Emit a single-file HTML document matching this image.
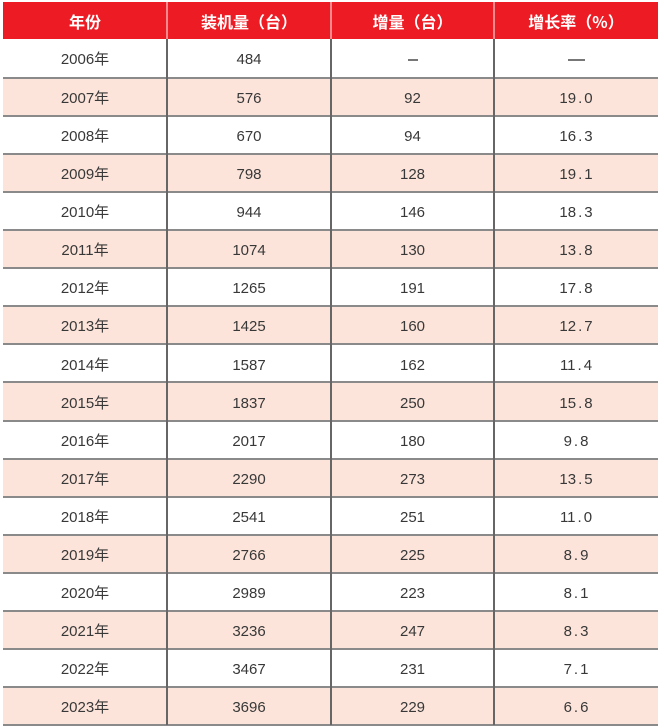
<!DOCTYPE html>
<html><head><meta charset="utf-8"><style>
html,body{margin:0;padding:0;background:#fff;}
body{width:664px;height:727px;position:relative;overflow:hidden;font-family:"Liberation Sans","Noto Sans CJK SC",sans-serif;}
.hdr{position:absolute;left:3px;top:2px;width:655px;height:37px;background:#ED1C24;}
.hc{position:absolute;top:2px;height:37px;line-height:38px;text-align:center;color:#fff;font-family:"Noto Sans CJK SC",sans-serif;font-weight:bold;font-size:16px;}
.row{position:absolute;left:3px;width:655px;height:38.06px;}
.pink{background:#FCE4DA;}
.hl{position:absolute;left:3px;width:655px;height:2px;background:#8a8a8a;}
.vl{position:absolute;top:39px;height:686px;width:1.5px;background:#666;}
.vh{position:absolute;top:2px;height:37px;width:1.5px;background:#f58a8e;}
.c{position:absolute;height:38px;line-height:41px;text-align:center;color:#383838;font-size:15px;}
.c1{left:3px;width:164px;}
.c2{left:167px;width:164px;}
.c3{left:331px;width:163px;}
.c4{left:494px;width:164px;}
.p{margin:0 2px;}
</style></head><body>
<div class="hdr"></div>
<div class="hc" style="left:3px;width:164px;">年份</div>
<div class="hc" style="left:167px;width:164px;">装机量（台）</div>
<div class="hc" style="left:331px;width:163px;">增量（台）</div>
<div class="hc" style="left:494px;width:164px;">增长率（%）</div>
<div class="vh" style="left:166.2px"></div>
<div class="vh" style="left:330.2px"></div>
<div class="vh" style="left:493.2px"></div>

<div class="row pink" style="top:77.06px"></div>
<div class="row pink" style="top:153.18px"></div>
<div class="row pink" style="top:229.3px"></div>
<div class="row pink" style="top:305.42px"></div>
<div class="row pink" style="top:381.54px"></div>
<div class="row pink" style="top:457.66px"></div>
<div class="row pink" style="top:533.78px"></div>
<div class="row pink" style="top:609.9px"></div>
<div class="row pink" style="top:686.02px"></div>

<div class="hl" style="top:77px"></div>
<div class="hl" style="top:115.06px"></div>
<div class="hl" style="top:153.12px"></div>
<div class="hl" style="top:191.18px"></div>
<div class="hl" style="top:229.24px"></div>
<div class="hl" style="top:267.3px"></div>
<div class="hl" style="top:305.36px"></div>
<div class="hl" style="top:343.42px"></div>
<div class="hl" style="top:381.48px"></div>
<div class="hl" style="top:419.54px"></div>
<div class="hl" style="top:457.6px"></div>
<div class="hl" style="top:495.66px"></div>
<div class="hl" style="top:533.72px"></div>
<div class="hl" style="top:571.78px"></div>
<div class="hl" style="top:609.84px"></div>
<div class="hl" style="top:647.9px"></div>
<div class="hl" style="top:685.96px"></div>
<div class="hl" style="top:723.6px"></div>

<div class="vl" style="left:166.2px"></div>
<div class="vl" style="left:330.2px"></div>
<div class="vl" style="left:493.2px"></div>

<div class="c c1" style="top:39px">2006年</div><div class="c c2" style="top:39px">484</div><div class="c c3" style="top:39px"><span style="display:inline-block;width:10px;height:1.5px;background:#777;vertical-align:middle"></span></div><div class="c c4" style="top:39px"><span style="display:inline-block;width:17px;height:1.5px;background:#777;vertical-align:middle"></span></div>
<div class="c c1" style="top:78px">2007年</div><div class="c c2" style="top:78px">576</div><div class="c c3" style="top:78px">92</div><div class="c c4" style="top:78px">19<span class="p">.</span>0</div>
<div class="c c1" style="top:116.1px">2008年</div><div class="c c2" style="top:116.1px">670</div><div class="c c3" style="top:116.1px">94</div><div class="c c4" style="top:116.1px">16<span class="p">.</span>3</div>
<div class="c c1" style="top:154.2px">2009年</div><div class="c c2" style="top:154.2px">798</div><div class="c c3" style="top:154.2px">128</div><div class="c c4" style="top:154.2px">19<span class="p">.</span>1</div>
<div class="c c1" style="top:192.2px">2010年</div><div class="c c2" style="top:192.2px">944</div><div class="c c3" style="top:192.2px">146</div><div class="c c4" style="top:192.2px">18<span class="p">.</span>3</div>
<div class="c c1" style="top:230.3px">2011年</div><div class="c c2" style="top:230.3px">1074</div><div class="c c3" style="top:230.3px">130</div><div class="c c4" style="top:230.3px">13<span class="p">.</span>8</div>
<div class="c c1" style="top:268.4px">2012年</div><div class="c c2" style="top:268.4px">1265</div><div class="c c3" style="top:268.4px">191</div><div class="c c4" style="top:268.4px">17<span class="p">.</span>8</div>
<div class="c c1" style="top:306.4px">2013年</div><div class="c c2" style="top:306.4px">1425</div><div class="c c3" style="top:306.4px">160</div><div class="c c4" style="top:306.4px">12<span class="p">.</span>7</div>
<div class="c c1" style="top:344.5px">2014年</div><div class="c c2" style="top:344.5px">1587</div><div class="c c3" style="top:344.5px">162</div><div class="c c4" style="top:344.5px">11<span class="p">.</span>4</div>
<div class="c c1" style="top:382.5px">2015年</div><div class="c c2" style="top:382.5px">1837</div><div class="c c3" style="top:382.5px">250</div><div class="c c4" style="top:382.5px">15<span class="p">.</span>8</div>
<div class="c c1" style="top:420.6px">2016年</div><div class="c c2" style="top:420.6px">2017</div><div class="c c3" style="top:420.6px">180</div><div class="c c4" style="top:420.6px">9<span class="p">.</span>8</div>
<div class="c c1" style="top:458.7px">2017年</div><div class="c c2" style="top:458.7px">2290</div><div class="c c3" style="top:458.7px">273</div><div class="c c4" style="top:458.7px">13<span class="p">.</span>5</div>
<div class="c c1" style="top:496.7px">2018年</div><div class="c c2" style="top:496.7px">2541</div><div class="c c3" style="top:496.7px">251</div><div class="c c4" style="top:496.7px">11<span class="p">.</span>0</div>
<div class="c c1" style="top:534.8px">2019年</div><div class="c c2" style="top:534.8px">2766</div><div class="c c3" style="top:534.8px">225</div><div class="c c4" style="top:534.8px">8<span class="p">.</span>9</div>
<div class="c c1" style="top:572.8px">2020年</div><div class="c c2" style="top:572.8px">2989</div><div class="c c3" style="top:572.8px">223</div><div class="c c4" style="top:572.8px">8<span class="p">.</span>1</div>
<div class="c c1" style="top:610.9px">2021年</div><div class="c c2" style="top:610.9px">3236</div><div class="c c3" style="top:610.9px">247</div><div class="c c4" style="top:610.9px">8<span class="p">.</span>3</div>
<div class="c c1" style="top:649px">2022年</div><div class="c c2" style="top:649px">3467</div><div class="c c3" style="top:649px">231</div><div class="c c4" style="top:649px">7<span class="p">.</span>1</div>
<div class="c c1" style="top:687px">2023年</div><div class="c c2" style="top:687px">3696</div><div class="c c3" style="top:687px">229</div><div class="c c4" style="top:687px">6<span class="p">.</span>6</div>
</body></html>
